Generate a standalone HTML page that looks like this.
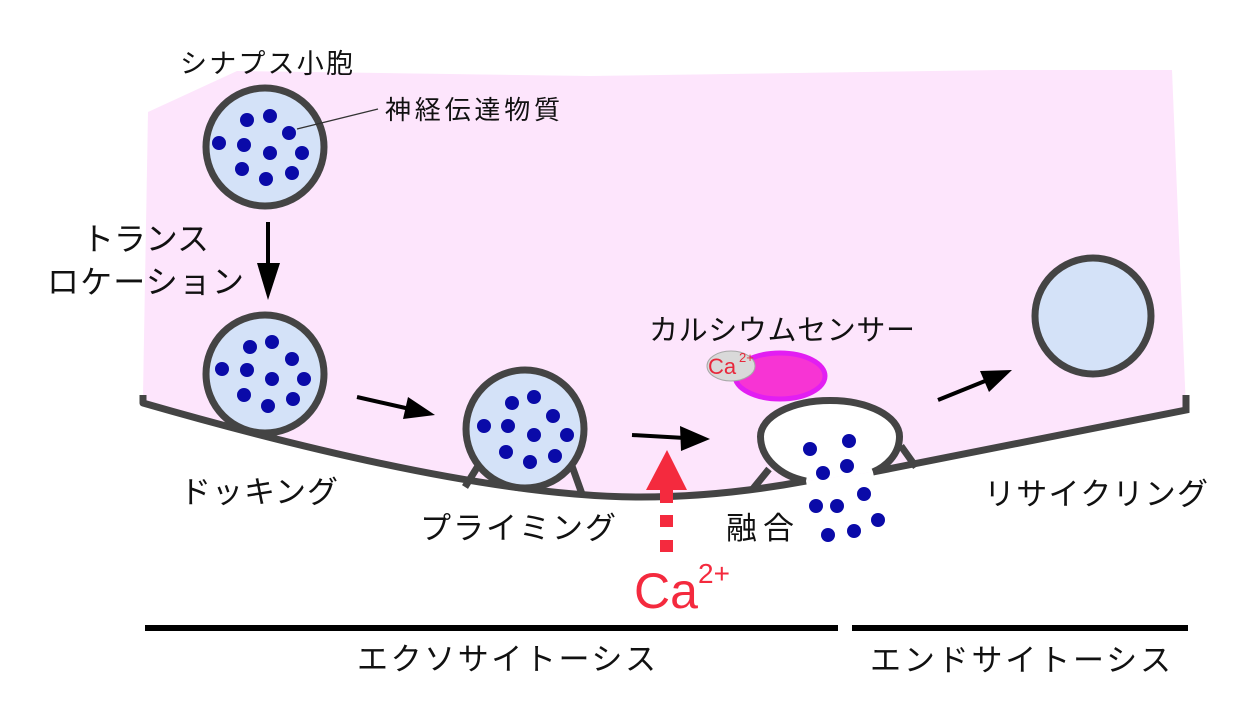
<!DOCTYPE html>
<html>
<head>
<meta charset="utf-8">
<style>
  html, body { margin: 0; padding: 0; background: #ffffff; }
  body { width: 1240px; height: 721px; overflow: hidden; }
  svg { display: block; }
  .jp { font-family: "Liberation Sans", "Noto Sans CJK JP", sans-serif; fill: #111; }
  .lat { font-family: "Liberation Sans", sans-serif; }
</style>
</head>
<body>
<svg width="1240" height="721" viewBox="0 0 1240 721" xmlns="http://www.w3.org/2000/svg">
  <!-- pink cytoplasm region -->
  <path d="M148,112 L237,71 L590,76 L1000,70 L1172,70 L1186,410 Q1000,447 873,472 L806,481 Q720,497 640,497 Q470,497 143,403 L143,395 Z" fill="#fde5fc"/>

  <!-- membrane -->
  <path d="M143,395 L143,403 Q470,497 640,497 Q720,497 806,481" fill="none" stroke="#444" stroke-width="7" stroke-linejoin="round"/>
  <path d="M873,472 Q1000,447 1186,410 L1186,395" fill="none" stroke="#444" stroke-width="7" stroke-linejoin="miter"/>

  <!-- vesicle 1 (top) -->
  <circle cx="265" cy="147" r="59" fill="#d4e2f8" stroke="#444" stroke-width="7"/>
  <g fill="#0a0aa8">
    <circle cx="247" cy="120" r="7"/>
    <circle cx="270" cy="116" r="7"/>
    <circle cx="289" cy="133" r="7"/>
    <circle cx="219" cy="143" r="7"/>
    <circle cx="244" cy="145" r="7"/>
    <circle cx="270" cy="153" r="7"/>
    <circle cx="302" cy="153" r="7"/>
    <circle cx="242" cy="169" r="7"/>
    <circle cx="266" cy="179" r="7"/>
    <circle cx="292" cy="173" r="7"/>
  </g>
  <line x1="297" y1="129" x2="378" y2="109" stroke="#333" stroke-width="1.3"/>

  <!-- vesicle 2 (docking) -->
  <circle cx="265" cy="374" r="59" fill="#d4e2f8" stroke="#444" stroke-width="7"/>
  <g fill="#0a0aa8">
    <circle cx="250" cy="347" r="7"/>
    <circle cx="272" cy="342" r="7"/>
    <circle cx="292" cy="359" r="7"/>
    <circle cx="222" cy="369" r="7"/>
    <circle cx="247" cy="370" r="7"/>
    <circle cx="272" cy="379" r="7"/>
    <circle cx="304" cy="379" r="7"/>
    <circle cx="244" cy="395" r="7"/>
    <circle cx="268" cy="406" r="7"/>
    <circle cx="293" cy="399" r="7"/>
  </g>

  <!-- vesicle 3 (priming) with stalks -->
  <line x1="478" y1="466" x2="465" y2="487" stroke="#444" stroke-width="7"/>
  <line x1="572" y1="466" x2="582" y2="494" stroke="#444" stroke-width="7"/>
  <circle cx="525" cy="429" r="59" fill="#d4e2f8" stroke="#444" stroke-width="7"/>
  <g fill="#0a0aa8">
    <circle cx="512" cy="403" r="7"/>
    <circle cx="534" cy="397" r="7"/>
    <circle cx="553" cy="416" r="7"/>
    <circle cx="484" cy="426" r="7"/>
    <circle cx="508" cy="426" r="7"/>
    <circle cx="534" cy="435" r="7"/>
    <circle cx="567" cy="435" r="7"/>
    <circle cx="506" cy="452" r="7"/>
    <circle cx="530" cy="462" r="7"/>
    <circle cx="555" cy="456" r="7"/>
  </g>

  <!-- fusion vesicle -->
  <line x1="752" y1="490" x2="769" y2="469" stroke="#444" stroke-width="7"/>
  <line x1="901" y1="446" x2="916" y2="467" stroke="#444" stroke-width="7"/>
  <path d="M806,481 C780,476 760.5,458 760.5,436.5 C760.5,416.6 791.6,400.5 830,400.5 C868.4,400.5 899.5,416.6 899.5,436.5 C899.5,455 885,467 873,472 Z" fill="#ffffff" stroke="none"/>
  <path d="M806,481 C780,476 760.5,458 760.5,436.5 C760.5,416.6 791.6,400.5 830,400.5 C868.4,400.5 899.5,416.6 899.5,436.5 C899.5,455 885,467 873,472" fill="none" stroke="#444" stroke-width="7"/>
  <g fill="#0a0aa8">
    <circle cx="810" cy="449" r="7"/>
    <circle cx="849" cy="441" r="7"/>
    <circle cx="823" cy="473" r="7"/>
    <circle cx="847" cy="466" r="7"/>
    <circle cx="864" cy="494" r="7"/>
    <circle cx="816" cy="506" r="7"/>
    <circle cx="837" cy="506" r="7"/>
    <circle cx="878" cy="520" r="7"/>
    <circle cx="828" cy="535" r="7"/>
    <circle cx="854" cy="531" r="7"/>
  </g>

  <!-- calcium sensor -->
  <ellipse cx="780" cy="376" rx="45" ry="23" fill="#f734d4" stroke="#e21ef2" stroke-width="5"/>
  <ellipse cx="731" cy="366" rx="24" ry="15" fill="#d9d9d9" stroke="#a8a8a8" stroke-width="1"/>
  <text class="lat" x="708" y="374" font-size="22" fill="#e8283c">Ca</text>
  <text class="lat" x="739" y="362" font-size="13" fill="#e8283c">2+</text>

  <!-- recycled vesicle -->
  <circle cx="1093" cy="316" r="58" fill="#d4e2f8" stroke="#444" stroke-width="7"/>

  <!-- arrows -->
  <line x1="268" y1="222" x2="268" y2="266" stroke="#000" stroke-width="4"/>
  <polygon points="257,263 280,263 268,300" fill="#000"/>

  <line x1="357" y1="397" x2="410" y2="409" stroke="#000" stroke-width="4"/>
  <polygon points="435,415 408,397 403,419" fill="#000"/>

  <line x1="632" y1="435" x2="685" y2="438" stroke="#000" stroke-width="4"/>
  <polygon points="710,439 680,426 681,451" fill="#000"/>

  <line x1="938" y1="400" x2="990" y2="379" stroke="#000" stroke-width="4"/>
  <polygon points="1012,370 980,371 989,392" fill="#000"/>

  <!-- red Ca2+ arrow -->
  <polygon points="646,490 687,490 667,450" fill="#f42a3e"/>
  <rect x="660" y="488" width="13" height="15" fill="#f42a3e"/>
  <rect x="660" y="515" width="13" height="12" fill="#f42a3e"/>
  <rect x="660" y="540" width="13" height="12" fill="#f42a3e"/>
  <text class="lat" x="634" y="608" font-size="50" fill="#f42a3e">Ca</text>
  <text class="lat" x="698" y="583" font-size="28" fill="#f42a3e">2+</text>

  <!-- labels -->
  <text class="jp" x="180" y="73" font-size="27" textLength="173" lengthAdjust="spacing">シナプス小胞</text>
  <text class="jp" x="385" y="119" font-size="26" textLength="175" lengthAdjust="spacing">神経伝達物質</text>
  <text class="jp" x="82" y="250" font-size="32" textLength="127" lengthAdjust="spacing">トランス</text>
  <text class="jp" x="47" y="293" font-size="32" textLength="197" lengthAdjust="spacing">ロケーション</text>
  <text class="jp" x="180" y="503" font-size="31" textLength="158" lengthAdjust="spacing">ドッキング</text>
  <text class="jp" x="420" y="539" font-size="31" textLength="196" lengthAdjust="spacing">プライミング</text>
  <text class="jp" x="726" y="539" font-size="31" textLength="68" lengthAdjust="spacing">融合</text>
  <text class="jp" x="649" y="340" font-size="29" textLength="266" lengthAdjust="spacing">カルシウムセンサー</text>
  <text class="jp" x="984" y="505" font-size="31" textLength="224" lengthAdjust="spacing">リサイクリング</text>

  <!-- bottom bars -->
  <rect x="145" y="625" width="693" height="6" fill="#000"/>
  <rect x="852" y="625" width="336" height="6" fill="#000"/>
  <text class="jp" x="357" y="670" font-size="31" textLength="299" lengthAdjust="spacing">エクソサイトーシス</text>
  <text class="jp" x="870" y="671" font-size="31" textLength="301" lengthAdjust="spacing">エンドサイトーシス</text>
</svg>
</body>
</html>
